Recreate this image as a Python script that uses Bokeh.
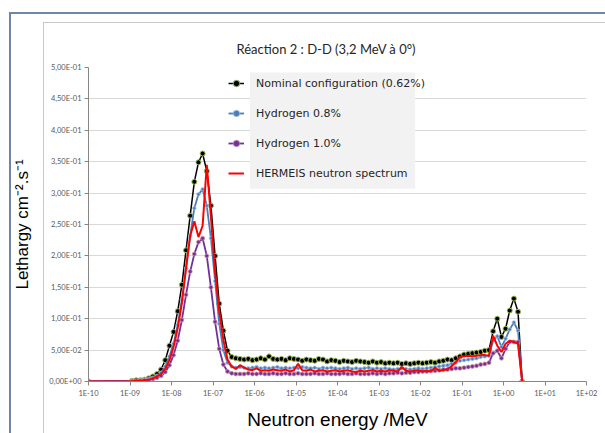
from bokeh.plotting import figure
from bokeh.layouts import column
from bokeh.models import FixedTicker, Legend, LegendItem, BoxAnnotation
from bokeh.embed import file_html
from bokeh.resources import INLINE

# ---------------- data ----------------
log_energy = [-10.0,
    -8.95, -8.85, -8.75, -8.65, -8.55, -8.45, -8.35, -8.25, -8.15, -8.05,
    -7.95, -7.85, -7.75, -7.65, -7.55, -7.45, -7.35, -7.25, -7.15, -7.05,
    -6.95, -6.85, -6.75, -6.65, -6.55, -6.45, -6.35, -6.25, -6.15, -6.05,
    -5.95, -5.85, -5.75, -5.65, -5.55, -5.45, -5.35, -5.25, -5.15, -5.05,
    -4.95, -4.85, -4.75, -4.65, -4.55, -4.45, -4.35, -4.25, -4.15, -4.05,
    -3.95, -3.85, -3.75, -3.65, -3.55, -3.45, -3.35, -3.25, -3.15, -3.05,
    -2.95, -2.85, -2.75, -2.65, -2.55, -2.45, -2.35, -2.25, -2.15, -2.05,
    -1.95, -1.85, -1.75, -1.65, -1.55, -1.45, -1.35, -1.25, -1.15, -1.05,
    -0.95, -0.85, -0.75, -0.65, -0.55, -0.45, -0.35, -0.25, -0.15, -0.05,
    0.05, 0.15, 0.25, 0.35, 0.45]
energy = [10 ** e for e in log_energy]

nominal = [0.0,
    0.001, 0.002, 0.002, 0.003, 0.005, 0.008, 0.012, 0.019, 0.034, 0.057,
    0.079, 0.112, 0.154, 0.209, 0.264, 0.318, 0.349, 0.363, 0.335, 0.280,
    0.200, 0.124, 0.081, 0.049, 0.039, 0.037,
    0.036, 0.035, 0.036, 0.034, 0.035, 0.037, 0.035, 0.040, 0.036, 0.035,
    0.036, 0.034, 0.037, 0.036, 0.035, 0.033, 0.035, 0.034, 0.033, 0.036,
    0.035, 0.032, 0.034, 0.033, 0.031, 0.033, 0.032, 0.031, 0.033, 0.032,
    0.031, 0.030, 0.032, 0.030, 0.031, 0.029, 0.030, 0.029, 0.030, 0.028,
    0.029, 0.028, 0.029, 0.030, 0.029, 0.030, 0.031, 0.030, 0.032, 0.033,
    0.035, 0.034, 0.037, 0.040,
    0.043, 0.044, 0.045, 0.046, 0.047, 0.049, 0.050, 0.080, 0.100, 0.071,
    0.084, 0.113, 0.132, 0.111, 0.0]

hydrogen_08 = [0.0,
    0.001, 0.001, 0.002, 0.003, 0.004, 0.006, 0.009, 0.014, 0.024, 0.040,
    0.060, 0.090, 0.130, 0.180, 0.232, 0.276, 0.298, 0.306, 0.280, 0.228,
    0.160, 0.092, 0.050, 0.030, 0.024, 0.022,
    0.023, 0.022, 0.021, 0.022, 0.023, 0.021, 0.022, 0.021, 0.022, 0.023,
    0.021, 0.022, 0.021, 0.022, 0.021, 0.023, 0.022, 0.021, 0.022, 0.020,
    0.022, 0.021, 0.022, 0.021, 0.020, 0.021, 0.022, 0.020, 0.021, 0.020,
    0.021, 0.022, 0.020, 0.021, 0.020, 0.021, 0.020, 0.019, 0.020, 0.021,
    0.020, 0.019, 0.020, 0.021, 0.020, 0.021, 0.022, 0.023, 0.024, 0.025,
    0.026, 0.028, 0.030, 0.033,
    0.034, 0.035, 0.036, 0.037, 0.039, 0.040, 0.041, 0.065, 0.072, 0.055,
    0.068, 0.083, 0.094, 0.081, 0.0]

hydrogen_10 = [0.0,
    0.0005, 0.001, 0.001, 0.002, 0.002, 0.004, 0.006, 0.009, 0.015, 0.026,
    0.042, 0.065, 0.098, 0.138, 0.175, 0.203, 0.222, 0.228, 0.200, 0.150,
    0.095, 0.052, 0.027, 0.016, 0.013, 0.012,
    0.012, 0.012, 0.013, 0.012, 0.012, 0.013, 0.012, 0.012, 0.013, 0.012,
    0.012, 0.013, 0.012, 0.012, 0.013, 0.012, 0.012, 0.012, 0.013, 0.012,
    0.012, 0.013, 0.012, 0.012, 0.012, 0.013, 0.012, 0.012, 0.013, 0.012,
    0.012, 0.012, 0.013, 0.012, 0.013, 0.012, 0.013, 0.013, 0.014, 0.013,
    0.014, 0.014, 0.015, 0.015, 0.016, 0.016, 0.017, 0.017, 0.018, 0.019,
    0.019, 0.020, 0.021, 0.021,
    0.022, 0.023, 0.024, 0.025, 0.027, 0.028, 0.030, 0.045, 0.049, 0.037,
    0.052, 0.063, 0.063, 0.063, 0.0]

hermeis = [0.0,
    0.0005, 0.001, 0.001, 0.002, 0.003, 0.005, 0.008, 0.012, 0.020, 0.034,
    0.055, 0.085, 0.125, 0.180, 0.232, 0.255, 0.230, 0.248, 0.345, 0.262,
    0.175, 0.112, 0.066, 0.035, 0.024, 0.020,
    0.026, 0.022, 0.019, 0.018, 0.021, 0.017, 0.018, 0.017, 0.019, 0.018,
    0.017, 0.019, 0.016, 0.018, 0.028, 0.018, 0.017, 0.019, 0.016, 0.017,
    0.018, 0.016, 0.017, 0.018, 0.016, 0.017, 0.018, 0.016, 0.015, 0.017,
    0.016, 0.017, 0.018, 0.016, 0.017, 0.016, 0.018, 0.017, 0.016, 0.023,
    0.017, 0.016, 0.017, 0.018, 0.016, 0.017, 0.016, 0.022, 0.017, 0.018,
    0.020, 0.024, 0.031, 0.039,
    0.040, 0.041, 0.040, 0.041, 0.042, 0.042, 0.041, 0.073, 0.057, 0.047,
    0.060, 0.065, 0.063, 0.060, 0.0]

series_labels = ["Nominal configuration (0.62%)", "Hydrogen 0.8%",
                 "Hydrogen 1.0%", "HERMEIS neutron spectrum"]

x_ticks = [1e-10, 1e-09, 1e-08, 1e-07, 1e-06, 1e-05, 1e-04, 1e-03,
           1e-02, 1e-01, 1e+00, 1e+01, 1e+02]
x_tick_labels = ["1E-10", "1E-09", "1E-08", "1E-07", "1E-06", "1E-05", "1E-04",
                 "1E-03", "1E-02", "1E-01", "1E+00", "1E+01", "1E+02"]
y_ticks = [0.0, 0.05, 0.1, 0.15, 0.2, 0.25, 0.3, 0.35, 0.4, 0.45, 0.5]
y_tick_labels = ["0,00E+00", "5,00E-02", "1,00E-01", "1,50E-01", "2,00E-01",
                 "2,50E-01", "3,00E-01", "3,50E-01", "4,00E-01", "4,50E-01",
                 "5,00E-01"]

# ---------------- figure ----------------
p = figure(width=605, height=433, x_axis_type="log",
           x_range=(1e-10, 1e2), y_range=(0, 0.5),
           output_backend="svg", toolbar_location=None, tools="",
           min_border_left=88, min_border_right=19,
           min_border_top=67, min_border_bottom=52)
p.toolbar.logo = None
p.outline_line_color = None
p.background_fill_color = "white"
# transparent border so that the picture frame drawn behind the canvas shows
p.border_fill_color = None

p.title.text = "Réaction 2 : D-D (3,2 MeV à 0°)"
p.title.align = "left"
p.title.offset = 148
p.title.text_font = "Lato"
p.title.text_font_size = "13px"
p.title.text_font_style = "normal"
p.title.text_color = "#262626"
p.title.standoff = 22

p.xgrid.visible = False
p.ygrid.grid_line_color = "#d9d9d9"
p.ygrid.grid_line_width = 1

for ax in (p.xaxis[0], p.yaxis[0]):
    ax.axis_line_color = "#868686"
    ax.major_tick_line_color = "#868686"
    ax.minor_tick_line_color = None
    ax.major_tick_in = 0
    ax.major_tick_out = 4
    ax.major_label_text_font = "Lato"
    ax.major_label_text_font_size = "7.5px"
    ax.major_label_text_color = "#595959"
    ax.major_label_standoff = 3
    ax.axis_label_text_font = "Liberation Sans"
    ax.axis_label_text_font_style = "normal"
    ax.axis_label_text_color = "black"

p.xaxis.ticker = FixedTicker(ticks=x_ticks)
p.xaxis.major_label_overrides = dict(zip(x_ticks, x_tick_labels))
p.yaxis.ticker = FixedTicker(ticks=y_ticks)
p.yaxis.major_label_overrides = dict(zip(y_ticks, y_tick_labels))

p.xaxis.axis_label = "Neutron energy /MeV"
p.xaxis.axis_label_text_font_size = "19px"
p.xaxis.axis_label_standoff = 8
p.yaxis.axis_label = "Lethargy cm⁻².s⁻¹"
p.yaxis.axis_label_text_font_size = "17px"
p.yaxis.axis_label_standoff = 14

# legend background (text part only, as in the original)
p.add_layout(BoxAnnotation(left=10 ** -6.11, right=10 ** -2.13, top=0.492, bottom=0.307,
                           fill_color="#f2f2f2", fill_alpha=1, line_color=None,
                           level="underlay"))

# ---------------- series ----------------
l1 = p.line(energy, nominal, line_color="black", line_width=1.5)
s1 = p.scatter(energy, nominal, size=5, fill_color="black",
               line_color="#9bbb59", line_width=1)
l2 = p.line(energy, hydrogen_08, line_color="#4a7ebb", line_width=1.8)
s2 = p.scatter(energy, hydrogen_08, size=3.5, fill_color="#4a7ebb",
               line_color="#a9c4e4", line_width=0.8)
l3 = p.line(energy, hydrogen_10, line_color="#7030a0", line_width=1.8)
s3 = p.scatter(energy, hydrogen_10, size=4, fill_color="#7030a0",
               line_color="#d99694", line_width=0.8)
l4 = p.line(energy, hermeis, line_color="#ff0000", line_width=2)

legend = Legend(items=[LegendItem(label=series_labels[0], renderers=[l1, s1]),
                       LegendItem(label=series_labels[1], renderers=[l2, s2]),
                       LegendItem(label=series_labels[2], renderers=[l3, s3]),
                       LegendItem(label=series_labels[3], renderers=[l4])],
                location=(140, 198), orientation="vertical",
                background_fill_color=None, background_fill_alpha=0,
                border_line_color=None, border_line_alpha=0,
                label_text_font="DejaVu Sans", label_text_font_size="11px",
                label_text_color="#262626",
                glyph_width=16, glyph_height=20, label_height=20,
                label_standoff=12, spacing=10, padding=5, margin=0)
p.add_layout(legend)

# picture frame (slide border + chart-area border) drawn behind the transparent canvas
page = column(p, width=605, height=433, styles={
    "overflow": "hidden",
    "background-color": "white",
    "background-image": ("linear-gradient(#6f87a6, #6f87a6), linear-gradient(#6f87a6, #6f87a6), "
                         "linear-gradient(#c8c8c8, #c8c8c8), linear-gradient(#c8c8c8, #c8c8c8)"),
    "background-position": "9px 12px, 9px 12px, 43px 22px, 43px 22px",
    "background-size": "2px 433px, 605px 2px, 1px 433px, 605px 1px",
    "background-repeat": "no-repeat",
})

open("out.html", "w").write(file_html(page, INLINE))
